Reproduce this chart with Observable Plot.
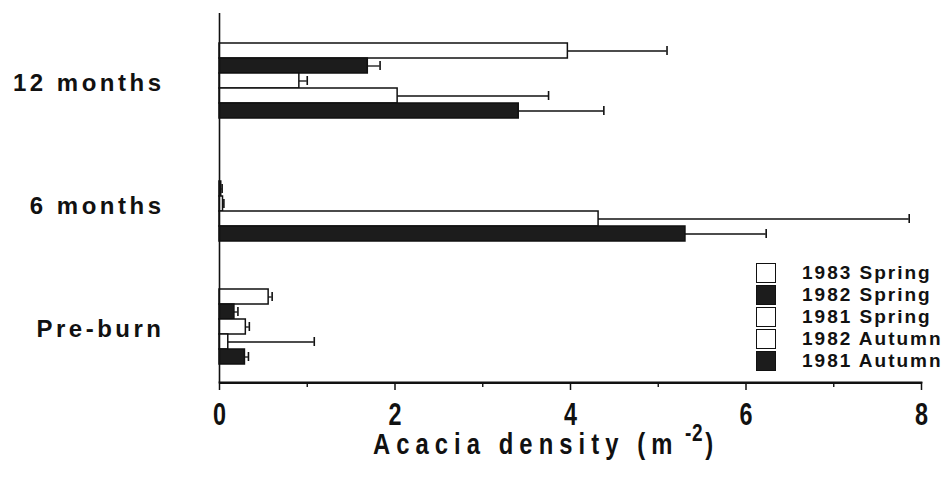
<!DOCTYPE html>
<html><head><meta charset="utf-8">
<script src="https://cdn.jsdelivr.net/npm/d3@7"></script>
<script src="https://cdn.jsdelivr.net/npm/@observablehq/plot@0.6"></script>
<style>
body{margin:0;background:#fff;}
#wrap{position:relative;width:947px;height:482px;overflow:hidden;}
#chart{position:absolute;left:0;top:0;}
#legend{position:absolute;left:756px;top:262px;font:bold 19px "Liberation Sans",Arial,sans-serif;letter-spacing:2px;color:#111;}
.row{display:flex;align-items:center;height:22px;white-space:nowrap;}
.sw{width:18px;height:18px;border:1.5px solid #111;margin-right:26px;flex:none;}
#xtitle{position:absolute;left:373px;top:422px;font:bold 29px "Liberation Sans",Arial,sans-serif;letter-spacing:7.4px;white-space:nowrap;color:#111;transform:scaleX(0.82);transform-origin:0 0;}
#xtitle sup{font-size:0.8em;letter-spacing:1px;position:relative;top:-0.1em;margin-left:8px;margin-right:2px;}
#baseline{position:absolute;height:0;border-top:2px solid #111;}
</style></head>
<body><div id="wrap"><div id="chart"></div><div id="baseline"></div><div id="legend"></div><div id="xtitle"></div></div>
<script>
const groups = ["12 months", "6 months", "Pre-burn"];
const series = ["1983 Spring", "1982 Spring", "1981 Spring", "1982 Autumn", "1981 Autumn"];
const seriesFill = ["#ffffff", "#1c1c1c", "#ffffff", "#ffffff", "#1c1c1c"];
const density12m = [3.97, 1.69, 0.91, 2.03, 3.41];
const se12m = [1.13, 0.14, 0.09, 1.72, 0.97];
const density6m = [0.0, 0.02, 0.04, 4.32, 5.31];
const se6m = [0.0, 0.01, 0.01, 3.54, 0.92];
const densityPre = [0.56, 0.17, 0.30, 0.10, 0.29];
const sePre = [0.04, 0.04, 0.04, 0.98, 0.04];
const xTicks = [0, 2, 4, 6, 8];
const xMinorTicks = [1, 3, 5, 7];
const xTitle = "Acacia density (m";
const xTitleSup = "-2";

const table = [];
[[density12m, se12m], [density6m, se6m], [densityPre, sePre]].forEach(([v, e], gi) => {
  series.forEach((s, si) => table.push({group: groups[gi], series: s, value: v[si], err: e[si]}));
});
const withErr = table.filter(d => d.err > 0);

const marks = [
  Plot.ruleY(withErr, {fy: "group", y: "series", x1: "value", x2: d => d.value + d.err, stroke: "#111", strokeWidth: 1.3}),
  Plot.tickX(withErr, {fy: "group", y: "series", x: d => d.value + d.err, stroke: "#111", strokeWidth: 1.6, insetTop: 3, insetBottom: 3}),
  Plot.barX(table, {fy: "group", y: "series", x: "value", fill: "series", stroke: "#111", strokeWidth: 1.5}),
  Plot.ruleX([0], {stroke: "#111", strokeWidth: 1.6}),
  Plot.frame({anchor: "bottom", fy: () => groups[groups.length - 1], stroke: "#111", strokeWidth: 1.8}),
  Plot.text(groups, {fy: d => d, y: () => series[2], text: d => d, frameAnchor: "left", textAnchor: "end", dx: -55, dy: 2, fontSize: 24, fontWeight: "bold", fill: "#111"}),
  Plot.axisX(xTicks, {tickSize: 8, tickPadding: 12, stroke: "#111", strokeWidth: 1.5, fontSize: 32, fontWeight: "bold", tickFormat: d => String(d), label: null}),
  Plot.axisX(xMinorTicks, {tickSize: 5, text: null, stroke: "#111", strokeWidth: 1.4, label: null})
];

const plot = Plot.plot({
  width: 947, height: 482,
  marginLeft: 219, marginRight: 26, marginTop: 12, marginBottom: 99,
  style: {fontFamily: '"Liberation Sans", Arial, sans-serif', background: "white", color: "#111"},
  x: {domain: [0, 8]},
  y: {domain: series, paddingInner: 0, paddingOuter: 1.365, align: 0.62, axis: null},
  fy: {domain: groups, padding: 0, axis: null},
  color: {domain: series, range: seriesFill},
  marks
});
document.getElementById("chart").appendChild(plot);

const svg = d3.select(plot);
// condensed digits, like the narrow face of the original tick labels
svg.selectAll('g[aria-label="x-axis tick label"] text')
  .attr("textLength", 13).attr("lengthAdjust", "spacingAndGlyphs");
// wide letter spacing of the group labels
svg.selectAll('g[aria-label="text"] text').attr("letter-spacing", "3.5px");

// x-axis baseline, positioned from the plot's own x and fy scales
const xs = plot.scale("x"), fys = plot.scale("fy");
const x0 = xs.apply(xTicks[0]), x1 = xs.apply(xTicks[xTicks.length - 1]);
const yb = fys.apply(groups[groups.length - 1]) + fys.bandwidth;
if (isFinite(x0) && isFinite(x1) && isFinite(yb)) {
  d3.select("#baseline").style("left", `${x0 - 0.5}px`).style("width", `${x1 - x0 + 1}px`).style("top", `${yb - 0.5}px`);
}

const legend = d3.select("#legend");
series.forEach((s, i) => {
  const row = legend.append("div").attr("class", "row");
  row.append("div").attr("class", "sw").style("background", seriesFill[i]);
  row.append("span").text(s);
});
const xt = d3.select("#xtitle");
xt.append("span").text(xTitle);
xt.append("sup").text(xTitleSup);
xt.append("span").text(")");
</script>
</body></html>
